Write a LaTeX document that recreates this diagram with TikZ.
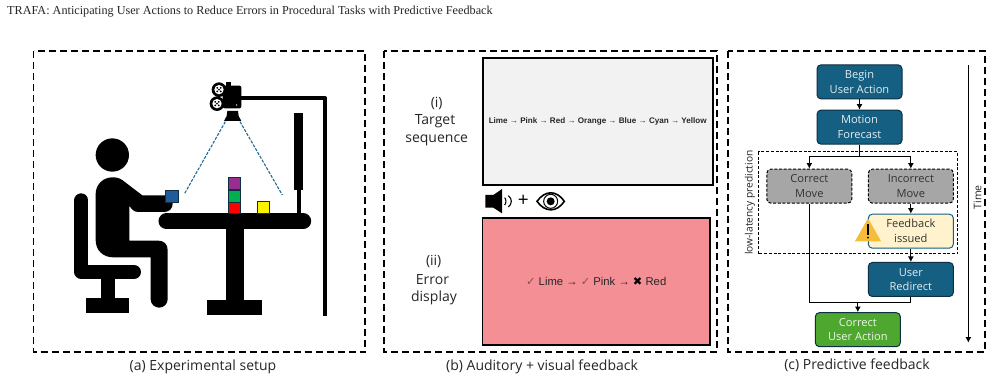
\documentclass[tikz,border=0pt]{standalone}
\usepackage{fontspec}
\setmainfont{Open Sans}
\newfontfamily\headfont{Liberation Serif}
\newfontfamily\arialfont{Liberation Sans}
\newfontfamily\symfont{DejaVu Sans}
\usetikzlibrary{arrows.meta,calc}
\definecolor{flowblue}{HTML}{156082}
\definecolor{flowedge}{HTML}{0C2F42}
\definecolor{flowgray}{HTML}{A6A6A6}
\definecolor{flowcream}{HTML}{FFF2CC}
\definecolor{flowgreen}{HTML}{4EA72E}
\definecolor{viewline}{HTML}{1F6A94}
\definecolor{capgray}{HTML}{262626}
\definecolor{targetfill}{HTML}{F2F2F2}
\definecolor{errorfill}{HTML}{F49095}
\definecolor{warnfill}{HTML}{F6BD3B}
\tikzset{
  panel/.style={draw=black,line width=1.5pt,dash pattern=on 7pt off 4pt},
  caption/.style={font=\fontsize{14}{15}\selectfont,text=capgray,inner sep=0pt},
  sidelabel/.style={font=\fontsize{14}{15}\selectfont,text=capgray,inner sep=0pt},
  flowbox/.style={rounded corners=4pt,minimum width=85pt,minimum height=34pt,inner sep=0pt,
    align=center,font=\fontsize{11.1}{14.7}\selectfont,line width=1pt},
  bluebox/.style={flowbox,fill=flowblue,draw=flowedge,text=white!88!flowblue},
  graybox/.style={flowbox,fill=flowgray,draw=black,dash pattern=on 3pt off 1.7pt,text=black!80},
  creambox/.style={flowbox,fill=flowcream,draw=flowblue,text=black!80},
  greenbox/.style={flowbox,fill=flowgreen,draw=flowedge,text=white!90!flowgreen},
  flowline/.style={draw=black,line width=1.1pt},
  flowarrow/.style={flowline,-{Latex[length=5.5pt,width=6pt]}},
  block/.style={fill=black,draw=none},
  cube/.style={draw=flowedge,line width=0.7pt},
  screen/.style={draw=black,line width=1.6pt,minimum width=230pt,minimum height=126pt,inner sep=0pt}
}
\begin{document}
\begin{tikzpicture}[x=1pt,y=-1pt]
\useasboundingbox (0,0) rectangle (994,380);
\fill[white] (0,0) rectangle (994,380);

\node[anchor=west,inner sep=0pt,font=\headfont\fontsize{12.2}{13}\selectfont,text=black!85] (header) at (7,12)
  {TRAFA: Anticipating User Actions to Reduce Errors in Procedural Tasks with Predictive Feedback};

% dashed panel frames
\draw[panel] (33.5,51) rectangle (365,352);
\draw[panel] (384,51) rectangle (717,352);
\draw[panel] (728,51) rectangle (985,352);

\node[caption] (capa) at (203,367) {(a) Experimental setup};
\node[caption] (capb) at (542,367) {(b) Auditory + visual feedback};
\node[caption] (capc) at (857,365) {(c) Predictive feedback};

% seated person, desk, camera and display
\begin{scope}[shift={(30,40)},x=0.33333pt,y=-0.33333pt]
  % chair
  \draw[line width=14pt,line cap=round,line join=round] (154,481) -- (154,696) -- (312,696);
  \fill[block] (212,705) rectangle (255,780);
  \fill[block] (169,775) rectangle (298,818);
  % person
  \fill (247,345) circle[radius=50];
  \fill (197,462) .. controls (197,434) and (219,412) .. (247,412)
     .. controls (260,412) and (268,414) .. (278,421)
     -- (337,466) -- (405,466)
     .. controls (420,466) and (428,478) .. (428,491)
     .. controls (428,505) and (418,516) .. (403,516)
     -- (325,516) .. controls (312,516) and (305,508) .. (298,497)
     -- (298,602) -- (385,602)
     .. controls (402,602) and (413,613) .. (413,630)
     -- (413,778) .. controls (413,792) and (401,803) .. (387.5,803)
     .. controls (374,803) and (362,792) .. (362,778)
     -- (362,652) -- (250,652)
     .. controls (218,652) and (197,630) .. (197,600) -- cycle;
  % desk
  \draw[line width=15.7pt,line cap=round] (409,544) -- (820,544);
  \fill[block] (588,555) rectangle (641,785);
  \fill[block] (532,780) rectangle (697,826);
  % display on its stand
  \fill[block] (793,220) rectangle (819,450);
  \fill[block] (801,450) rectangle (813,525);
  % camera arm
  \draw[line width=4pt,line join=round] (625,175) -- (886,175) -- (886,827);
  % camera
  \fill[rounded corners=2pt] (578,137) rectangle (634,205);
  \fill[block] (588,125) rectangle (603,140);
  \foreach \cx/\cy in {567/149,561/191}{
    \fill[black] (\cx,\cy) circle[radius=22];
    \fill[white] (\cx,\cy) circle[radius=14];
    \fill[black] (\cx,\cy) circle[radius=3];
    \foreach \a in {45,135,225,315}{\fill[black] (\cx,\cy)++(\a:7.5) circle[radius=3];}
  }
  \fill[white] (620,195) circle[radius=2];
  \fill[block] (592,213) -- (624,213) -- (626,228) -- (634,243) -- (582,243) -- (590,228) -- cycle;
  % field of view
  \draw[viewline,line width=1.1pt,dash pattern=on 3pt off 1.4pt] (586,245) -- (463,462);
  \draw[viewline,line width=1.1pt,dash pattern=on 3pt off 1.4pt] (630,245) -- (757,465);
  % colour cubes
  \draw[cube,fill={rgb,255:red,155;green,45;blue,145}] (594,412) rectangle (632,449);
  \draw[cube,fill={rgb,255:red,0;green,176;blue,80}] (594,451) rectangle (632,486);
  \draw[cube,fill=red] (594,488) rectangle (632,520);
  \draw[cube,fill=yellow] (681,484) rectangle (719,519);
  \draw[cube,fill={rgb,255:red,31;green,92;blue,153}] (405,451) rectangle (444,486);
\end{scope}

% feedback panel
\node[screen,fill=targetfill,minimum height=126.5pt] (target) at (597.7,121.5)
  {\arialfont\fontsize{8.1}{9}\selectfont\bfseries\color{black!85} Lime → Pink → Red → Orange → Blue → Cyan → Yellow};
\node[screen,fill=errorfill,minimum width=227.5pt,minimum height=126.5pt] (errorbox) at (596.2,281.5)
  {\arialfont\fontsize{11.3}{12}\selectfont\color{black!85}
   {\symfont\color{black!45!errorfill}✓} Lime → {\symfont\color{black!45!errorfill}✓} Pink → {\symfont\color{black}✖} Red};

\node[sidelabel] (li) at (436.7,103.5) {(i)};
\node[sidelabel] (lt) at (435,121.5) {Target};
\node[sidelabel] (ls) at (436.7,140.5) {sequence};
\node[sidelabel] (lii) at (433.7,261.5) {(ii)};
\node[sidelabel] (le) at (432.5,280) {Error};
\node[sidelabel] (ld) at (434,298) {display};

% sound and sight icons
\begin{scope}[shift={(380,40)},x=0.33333pt,y=-0.33333pt]
  \fill (316,465) -- (340,465) -- (366,447) -- (366,520) -- (340,503) -- (316,503) -- cycle;
  \draw[line width=1.1pt] (374,473) .. controls (379,478) and (379,490) .. (374,495);
  \draw[line width=1.1pt] (385,467) .. controls (397,476) and (397,492) .. (385,501);
  \node[inner sep=0pt,font=\fontsize{19}{19}\selectfont] (plus) at (430,483) {+};
  \draw[line width=1.6pt,fill=white] (471,484) .. controls (495,450) and (530,450) .. (553,484)
     .. controls (530,518) and (495,518) .. (471,484) -- cycle;
  \draw[line width=1pt] (512,484) circle[radius=21];
  \fill (512,484) circle[radius=12];
\end{scope}

% predictive feedback flow
\begin{scope}[shift={(725,40)},x=0.33333pt,y=-0.33333pt]
  \draw[black,line width=1pt,dash pattern=on 3pt off 1.7pt] (99,336) rectangle (698,642);
  \node[bluebox] (begin) at (403.5,125.5) {Begin\\User Action};
  \node[bluebox] (motion) at (403.5,261.5) {Motion\\Forecast};
  \node[graybox] (correct) at (253,438.5) {Correct\\Move};
  \node[graybox] (incorrect) at (557.5,438.5) {Incorrect\\Move};
  \node[creambox] (fb) at (557.5,573.5) {Feedback\\issued};
  \node[bluebox] (redirect) at (557.5,718.5) {User\\Redirect};
  \node[greenbox] (done) at (398.5,869) {Correct\\User Action};

  \coordinate (split) at (403.5,350);
  \coordinate (merge) at (398.5,787);
  \draw[flowarrow] (begin.south) -- (motion.north);
  \draw[flowline] (motion.south) -- (split);
  \draw[flowarrow] (split) -| (correct.north);
  \draw[flowarrow] (split) -| (incorrect.north);
  \draw[flowarrow] (incorrect.south) -- (fb.north);
  \draw[flowarrow] (fb.south) -- (redirect.north);
  \draw[flowline] (correct.south) |- (merge);
  \draw[flowline] (redirect.south) |- (merge);
  \draw[flowarrow] (merge) -- (done.north);

  % warning sign on the feedback box
  \fill[warnfill,draw=warnfill,line width=1pt,line join=round] (392,603) -- (466,603) -- (429,538) -- cycle;
  \fill[black] (426.5,552) rectangle (431.5,584);
  \fill[black] (429,593) circle[radius=3];

  \coordinate (timetop) at (730,75);
  \coordinate (timeend) at (730,908);
  \draw[flowarrow] (timetop) -- (timeend);
  \node[rotate=90,inner sep=0pt,font=\fontsize{10.5}{11}\selectfont,text=capgray] (timelabel) at (758,472) {Time};
  \node[rotate=90,inner sep=0pt,font=\fontsize{10.2}{11}\selectfont,text=capgray] (lowlat) at (75,488) {low-latency prediction};
\end{scope}
\end{tikzpicture}
\end{document}
